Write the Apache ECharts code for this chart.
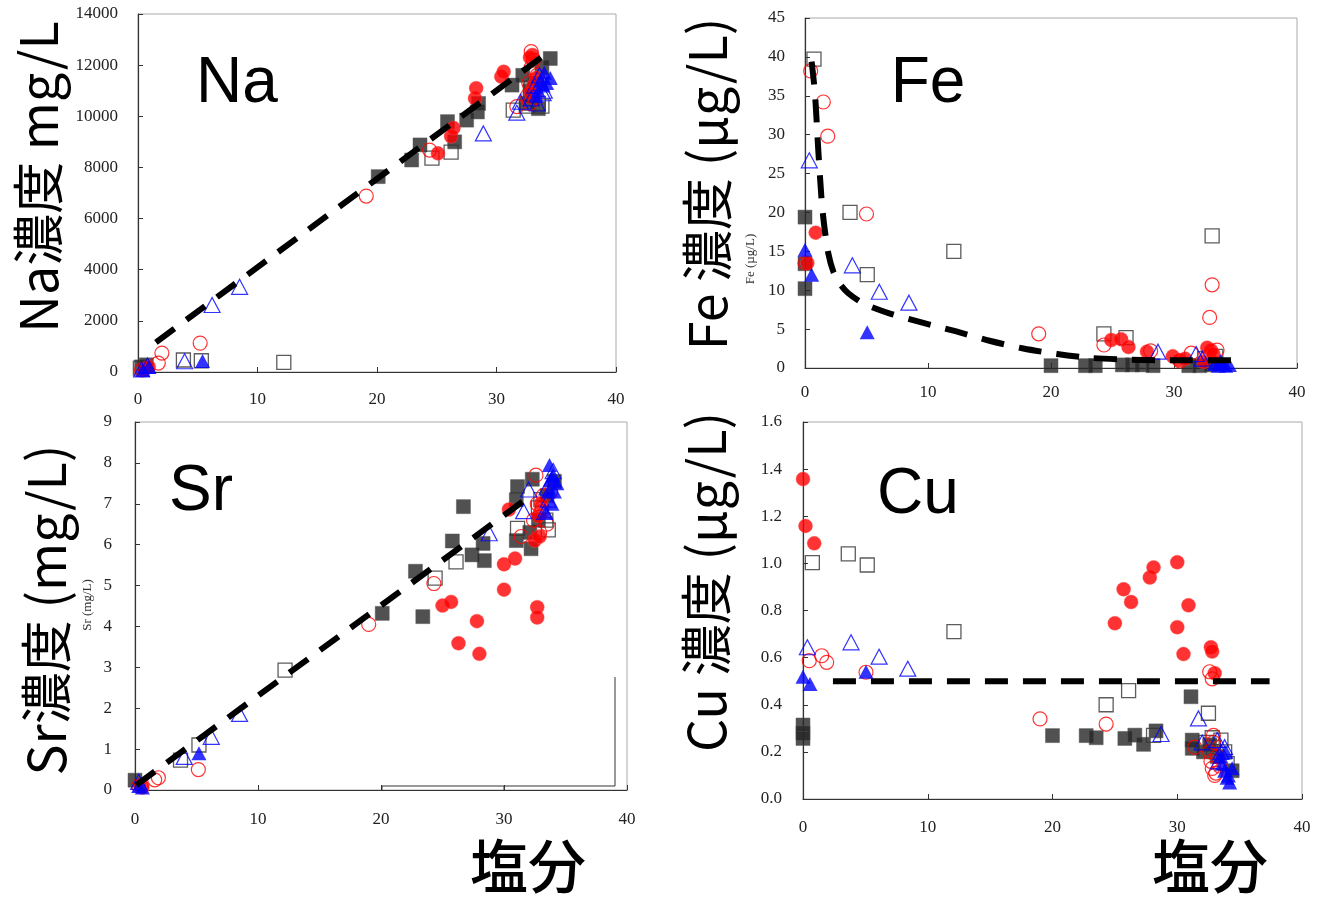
<!DOCTYPE html>
<html><head><meta charset="utf-8">
<script src="https://cdn.jsdelivr.net/npm/echarts@6/dist/echarts.min.js"></script>
<style>html,body{margin:0;padding:0;background:#fff}#c{width:1317px;height:897px}</style>
</head><body><div id="c"></div>
<script>
// ---------- DATA (salinity, concentration) ----------
const xTicks = [0, 10, 20, 30, 40];
const panelNames = ['Na', 'Fe', 'Sr', 'Cu'];
const yTitles = ['Na濃度 mg/L', 'Fe 濃度 (µg/L)', 'Sr濃度 (mg/L)', 'Cu 濃度 (µg/L)'];
const xTitle = '塩分';

// Na (mg/L)
const naFilledSquare = [[0.3,200],[0.7,280],[20.1,7640],[22.9,8290],[23.6,8880],[25.9,9790],[26.5,9000],[27.5,9850],[28.4,10170],[28.5,10500],[31.3,11220],[32.2,11600],[33.8,11900],[34.5,12260],[32.5,10500],[33.0,10800],[33.5,10300],[33.2,11300],[32.8,11000]];
const naOpenSquare = [[0.2,150],[3.8,470],[5.3,440],[12.2,380],[24.6,8360],[26.2,8600],[31.4,10240],[32.5,10400],[33.5,10500],[33.0,10700],[33.8,10400],[32.9,11100]];
const naFilledCircle = [[0.5,80],[0.9,200],[25.1,8550],[26.2,9220],[26.4,9540],[28.2,10700],[28.3,11100],[30.4,11550],[30.6,11740],[33.0,12400],[32.8,12300],[33.1,11200],[32.9,10900],[33.3,11500]];
const naOpenCircle = [[0.3,80],[1.7,350],[2.0,740],[5.2,1130],[19.1,6880],[24.4,8680],[31.7,10380],[32.9,11900],[32.9,12530],[32.7,11300],[33.0,11000],[33.2,10700],[32.6,10800],[33.4,11600],[33.1,12200],[32.8,10500]];
const naOpenTriangle = [[0.3,100],[0.8,250],[3.9,420],[6.2,2620],[8.5,3330],[28.9,9330],[31.7,10140],[32.0,10570],[32.9,10700],[33.2,11200],[33.6,11600],[33.9,10900],[33.4,10500],[33.7,11300],[34.0,11000]];
const naFilledTriangle = [[0.4,80],[0.9,200],[5.4,430],[34.0,11700],[34.5,11500],[33.7,11400],[33.5,11000],[33.9,11200],[33.3,10800],[34.2,11300]];
const naTrend = [[1.5,1160],[34.2,12460]];

// Fe (µg/L)
const feFilledSquare = [[0,19.4],[0,13.4],[0,10.2],[20.0,0.3],[22.8,0.3],[23.6,0.3],[25.8,0.4],[26.6,0.4],[27.4,0.4],[28.3,0.3],[31.2,0.3],[32.1,0.3],[33.0,0.4]];
const feOpenSquare = [[0.73,39.7],[3.66,20.0],[5.06,12.0],[12.1,15.0],[24.3,4.4],[26.1,3.9],[33.1,17.0],[33.4,1.5],[32.5,1.2]];
const feFilledCircle = [[0.19,13.5],[0.87,17.4],[24.9,3.6],[25.7,3.7],[26.3,2.7],[27.8,2.1],[29.9,1.5],[30.4,1.0],[30.9,1.2],[32.4,0.8],[32.7,2.6],[33.0,2.3],[33.2,1.8]];
const feOpenCircle = [[0,13.5],[0.46,38.2],[1.49,34.2],[1.85,29.8],[5.0,19.8],[19.0,4.4],[24.3,2.96],[28.1,2.2],[30.5,0.9],[31.4,1.9],[32.9,6.5],[33.1,10.7],[33.5,2.3],[32.8,1.5]];
const feOpenTriangle = [[0.35,26.7],[3.85,13.2],[6.04,9.8],[8.45,8.4],[28.7,2.1],[31.8,1.8],[32.3,1.2]];
const feFilledTriangle = [[0,15.2],[0.54,12.0],[5.06,4.6],[33.3,0.5],[33.6,0.3],[33.9,0.6],[34.2,0.3],[34.5,0.4],[33.8,0.9]];
const feTrend = [[0.54,39.4],[0.81,35.3],[1.08,28.0],[1.35,21.6],[1.57,18.2],[1.9,14.7],[2.3,12.4],[2.8,10.9],[3.52,9.6],[4.74,8.3],[6.91,7.0],[9.62,5.8],[12.3,4.7],[15.0,3.5],[17.75,2.5],[20.5,1.8],[23.2,1.3],[25.9,1.1],[29.0,1.0],[35.1,1.0]];

// Sr (mg/L)
const srFilledSquare = [[0,0.24],[20.1,4.32],[22.8,5.35],[23.4,4.24],[25.8,6.09],[26.7,6.93],[27.4,5.75],[28.3,6.03],[28.4,5.61],[31.0,6.1],[31.0,7.1],[31.1,7.42],[32.1,6.3],[32.2,5.9],[32.3,7.6],[34.1,7.55],[32.8,6.6],[33.5,7.2]];
const srOpenSquare = [[3.7,0.73],[5.2,1.1],[12.2,2.93],[24.4,5.18],[26.1,5.58],[31.1,6.4],[33.4,6.6],[33.6,6.36],[32.8,6.9],[33.0,7.1]];
const srFilledCircle = [[0.6,0.06],[25.0,4.51],[25.7,4.6],[26.3,3.59],[27.8,4.13],[28.0,3.33],[30.0,4.9],[30.0,5.52],[30.4,6.86],[30.9,5.66],[32.5,6.1],[32.7,4.47],[32.7,4.22],[32.9,6.2],[33.0,7.0],[32.8,6.7]];
const srOpenCircle = [[0.3,0.1],[0.5,0.1],[1.6,0.25],[1.9,0.3],[5.15,0.5],[19.0,4.05],[24.3,5.05],[31.4,6.2],[32.6,7.7],[32.4,6.6],[32.7,7.0],[33.0,6.8],[33.2,7.2],[33.5,6.5],[33.8,7.3],[32.9,6.3],[33.1,6.9]];
const srOpenTriangle = [[0.3,0.2],[4.0,0.81],[6.2,1.3],[8.5,1.86],[28.8,6.28],[31.6,6.82],[32.0,7.35],[33.3,6.8],[33.6,7.1],[33.9,7.6],[34.0,7.8],[33.5,7.4]];
const srFilledTriangle = [[0.6,0.06],[0.3,0.1],[5.2,0.9],[33.4,6.8],[33.6,7.3],[33.7,7.95],[33.9,7.0],[34.0,7.7],[34.3,7.5],[33.8,7.6],[34.1,7.3]];
const srTrend = [[0.1,0.12],[32.4,7.25]];

// Cu (µg/L)
const cuFilledSquare = [[0,0.314],[0,0.28],[0,0.257],[20.0,0.269],[22.7,0.269],[23.5,0.26],[25.8,0.257],[26.6,0.271],[27.3,0.232],[28.3,0.289],[31.1,0.434],[31.2,0.25],[31.2,0.215],[32.1,0.2],[32.6,0.23],[33.2,0.18],[34.4,0.12]];
const cuOpenSquare = [[0.75,1.003],[3.63,1.04],[5.15,0.993],[12.1,0.71],[24.3,0.40],[26.1,0.46],[28.1,0.27],[32.5,0.364],[32.3,0.24],[32.8,0.26],[33.5,0.25],[33.8,0.2],[34.0,0.15],[32.9,0.22]];
const cuFilledCircle = [[0,1.358],[0.2,1.159],[0.9,1.085],[25.0,0.746],[25.7,0.89],[26.3,0.836],[27.8,0.94],[28.1,0.983],[30.0,1.005],[30.0,0.729],[30.5,0.615],[30.9,0.822],[32.7,0.644],[32.8,0.626],[33.0,0.534]];
const cuOpenCircle = [[0.5,0.587],[1.5,0.608],[1.9,0.58],[5.05,0.538],[19.0,0.34],[24.3,0.318],[31.4,0.22],[32.6,0.54],[32.8,0.51],[32.9,0.27],[32.6,0.2],[32.7,0.16],[32.8,0.13],[33.0,0.1],[33.2,0.18],[33.4,0.14],[32.9,0.24],[33.1,0.11]];
const cuOpenTriangle = [[0.35,0.644],[3.85,0.665],[6.1,0.604],[8.4,0.553],[28.7,0.276],[31.7,0.342],[32.0,0.24],[33.2,0.25],[33.5,0.2],[33.3,0.16],[33.8,0.22]];
const cuFilledTriangle = [[0,0.519],[0.56,0.488],[5.05,0.54],[33.5,0.18],[33.8,0.12],[34.0,0.09],[34.2,0.07],[34.4,0.13],[33.6,0.15],[34.1,0.1],[33.9,0.2]];
const cuTrend = [[2.4,0.5],[37.4,0.5]];

const yMax = [14000, 45, 9, 1.6];
const yStep = [2000, 5, 1, 0.2];

// ---------- CHART ----------
const chart = echarts.init(document.getElementById('c'), null, {renderer: 'canvas'});
const serif = '"Liberation Serif","DejaVu Serif",serif';
const cjk = '"Noto Sans CJK JP","Noto Sans",sans-serif';

const grids = [
  {left: 138, top: 14, width: 478, height: 358},
  {left: 805, top: 18, width: 492, height: 350},
  {left: 135, top: 422, width: 492, height: 368},
  {left: 803, top: 422, width: 499, height: 377}
];
const xLabelMargin = [19, 16, 21, 20];
const yLabelMargin = [20, 20, 23, 21];

const STY = {
  fsq: {symbol: 'rect', symbolSize: 14, itemStyle: {color: '#262626', borderColor: '#555', borderWidth: 0.6}},
  osq: {symbol: 'rect', symbolSize: 14, itemStyle: {color: 'rgba(255,255,255,0)', borderColor: '#333', borderWidth: 1.3}},
  fci: {symbol: 'circle', symbolSize: 14, itemStyle: {color: '#ff0000', borderColor: '#ff5050', borderWidth: 0.5}},
  oci: {symbol: 'circle', symbolSize: 14, itemStyle: {color: 'rgba(255,255,255,0)', borderColor: '#ff0000', borderWidth: 1.2}},
  otr: {symbol: 'triangle', symbolSize: [16, 15], itemStyle: {color: 'rgba(255,255,255,0)', borderColor: '#0000ff', borderWidth: 1.2}},
  ftr: {symbol: 'triangle', symbolSize: [15, 14], itemStyle: {color: '#0000ff'}}
};

const panels = [
  [naFilledSquare, naOpenSquare, naFilledCircle, naOpenCircle, naOpenTriangle, naFilledTriangle, naTrend, false],
  [feFilledSquare, feOpenSquare, feFilledCircle, feOpenCircle, feOpenTriangle, feFilledTriangle, feTrend, true],
  [srFilledSquare, srOpenSquare, srFilledCircle, srOpenCircle, srOpenTriangle, srFilledTriangle, srTrend, false],
  [cuFilledSquare, cuOpenSquare, cuFilledCircle, cuOpenCircle, cuOpenTriangle, cuFilledTriangle, cuTrend, false]
];
const keys = ['fsq', 'osq', 'fci', 'oci', 'otr', 'ftr'];

const series = [];
panels.forEach((p, i) => {
  keys.forEach((k, j) => {
    series.push(Object.assign({
      type: 'scatter', xAxisIndex: i, yAxisIndex: i, data: p[j], z: 3 + j
    }, STY[k]));
  });
  series.push({
    type: 'line', xAxisIndex: i, yAxisIndex: i, data: p[6],
    smooth: p[7] ? 0.25 : false,
    showSymbol: false, z: 10,
    lineStyle: {color: '#000', width: 6, type: [23, 15], cap: 'butt', join: 'round'}
  });
});

const titleFont = '52px ' + cjk;
const elemFont = '64px "Liberation Sans",Arial,sans-serif';

const option = {
  animation: false,
  backgroundColor: '#fff',
  grid: grids.map((g, i) => Object.assign({show: true, borderColor: '#aaa', borderWidth: 1, backgroundColor: 'transparent', containLabel: false}, g)),
  xAxis: grids.map((g, i) => ({
    type: 'value', gridIndex: i, min: xTicks[0], max: xTicks[xTicks.length - 1], interval: 10,
    axisLine: {show: true, onZero: false, lineStyle: {color: '#333', width: 1.2}},
    axisTick: {show: true, inside: true, length: 5, lineStyle: {color: '#333'}},
    axisLabel: {fontFamily: serif, fontSize: 17, color: '#222', margin: xLabelMargin[i]},
    splitLine: {show: false}
  })),
  yAxis: grids.map((g, i) => ({
    type: 'value', gridIndex: i, min: 0, max: yMax[i], interval: yStep[i],
    axisLine: {show: true, onZero: false, lineStyle: {color: '#333', width: 1.2}},
    axisTick: {show: true, inside: true, length: 5, lineStyle: {color: '#333'}},
    axisLabel: {fontFamily: serif, fontSize: 17, color: '#222', margin: yLabelMargin[i],
      formatter: i === 3 ? (v => v.toFixed(1)) : (v => String(v))},
    splitLine: {show: false}
  })),
  series: series,
  graphic: [
    // element labels
    {type: 'text', x: 237, y: 84, style: {text: panelNames[0], font: elemFont, fill: '#000', align: 'center', verticalAlign: 'middle'}, z: 20},
    {type: 'text', x: 928, y: 84, style: {text: panelNames[1], font: elemFont, fill: '#000', align: 'center', verticalAlign: 'middle'}, z: 20},
    {type: 'text', x: 201, y: 492, style: {text: panelNames[2], font: elemFont, fill: '#000', align: 'center', verticalAlign: 'middle'}, z: 20},
    {type: 'text', x: 918, y: 495, style: {text: panelNames[3], font: elemFont, fill: '#000', align: 'center', verticalAlign: 'middle'}, z: 20},
    // y titles
    {type: 'text', x: 38, y: 177, rotation: Math.PI / 2, style: {text: yTitles[0], font: titleFont, fill: '#000', align: 'center', verticalAlign: 'middle'}},
    {type: 'text', x: 707, y: 184, rotation: Math.PI / 2, style: {text: yTitles[1], font: titleFont, fill: '#000', align: 'center', verticalAlign: 'middle'}},
    {type: 'text', x: 46, y: 610, rotation: Math.PI / 2, style: {text: yTitles[2], font: titleFont, fill: '#000', align: 'center', verticalAlign: 'middle'}},
    {type: 'text', x: 706, y: 582, rotation: Math.PI / 2, style: {text: yTitles[3], font: titleFont, fill: '#000', align: 'center', verticalAlign: 'middle'}},
    // small leftover axis titles
    {type: 'text', x: 751, y: 259, rotation: Math.PI / 2, style: {text: 'Fe (µg/L)', font: '13px ' + serif, fill: '#333', align: 'center', verticalAlign: 'middle'}},
    {type: 'text', x: 88, y: 605, rotation: Math.PI / 2, style: {text: 'Sr (mg/L)', font: '13px ' + serif, fill: '#333', align: 'center', verticalAlign: 'middle'}},
    // x titles
    {type: 'text', x: 528, y: 866, style: {text: xTitle, font: '500 58px ' + cjk, fill: '#000', align: 'center', verticalAlign: 'middle'}},
    {type: 'text', x: 1210, y: 866, style: {text: xTitle, font: '500 58px ' + cjk, fill: '#000', align: 'center', verticalAlign: 'middle'}},
    // leftover inner frame in Sr panel
    {type: 'polyline', shape: {points: [[382, 790], [382, 786], [615, 786], [615, 677]]}, style: {stroke: '#333', lineWidth: 1, fill: null}},
    {type: 'line', shape: {x1: 504, y1: 786, x2: 504, y2: 790}, style: {stroke: '#333', lineWidth: 1}}
  ]
};
chart.setOption(option);
</script>
</body></html>
